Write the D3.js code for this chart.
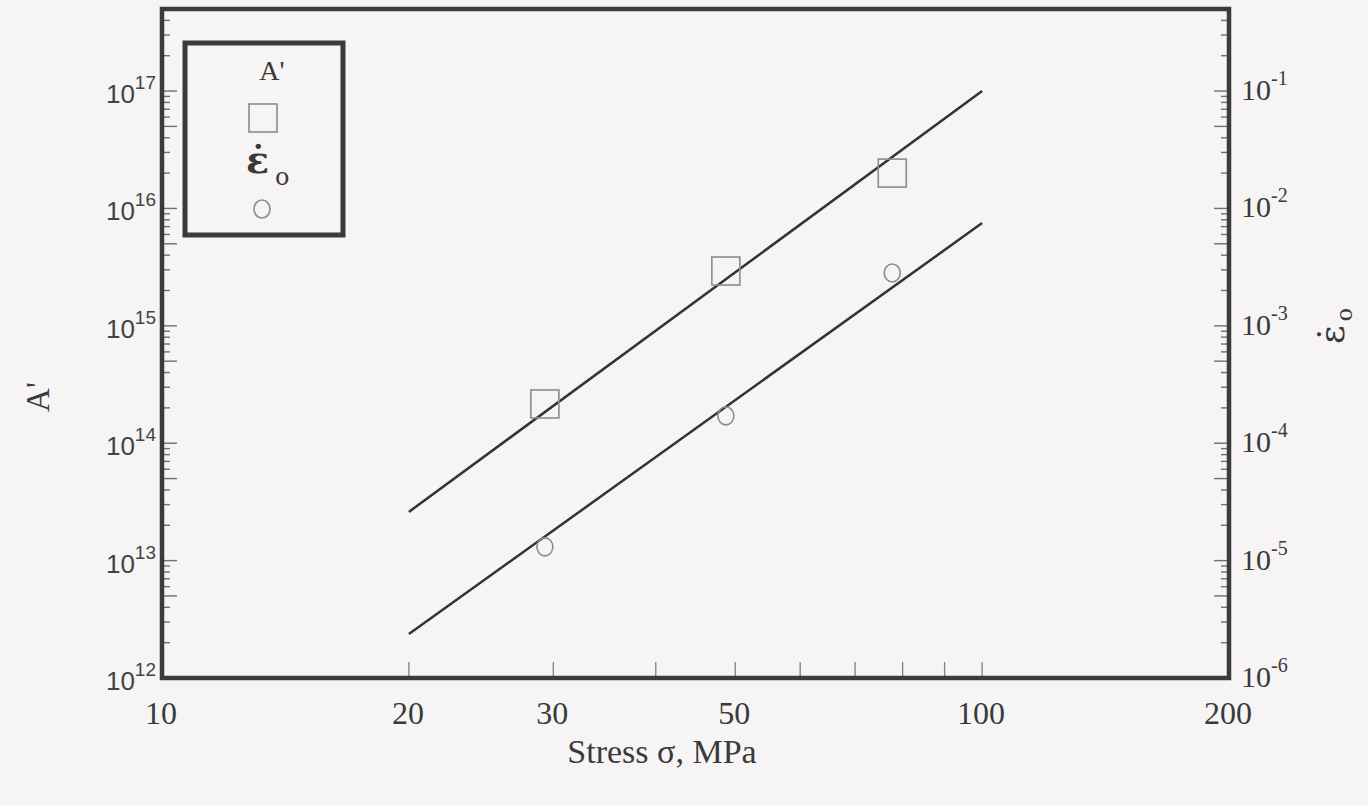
<!DOCTYPE html>
<html lang="en">
<head>
  <meta charset="UTF-8">
  <title>A' and strain rate vs stress</title>
  <script src="https://d3js.org/d3.v7.min.js"></script>
  <style>
    html, body {
      margin: 0;
      padding: 0;
      background: #f6f4f4;
    }
    svg {
      display: block;
    }
    .serif {
      font-family: "Liberation Serif", "Times New Roman", serif;
      fill: #3a3a3a;
    }
    .sans {
      font-family: "Liberation Sans", Arial, sans-serif;
      fill: #444;
    }
  </style>
</head>
<body>
  <svg width="1368" height="805"></svg>

  <script>
    // tick values and labels
    const xTickVals = [20, 30, 40, 50, 60, 70, 80, 90, 100];
    const xLabelVals = [10, 20, 30, 50, 100, 200];
    const leftExps = [12, 13, 14, 15, 16, 17];
    const rightExps = [-6, -5, -4, -3, -2, -1];

    // measured points
    const stress = [29.3, 48.7, 77.7];
    const aPrime = [2.16e14, 2.93e15, 2.0e16];
    const epsRate = [1.31e-5, 1.71e-4, 2.82e-3];

    // fitted lines (end points)
    const fitStress = [20, 100];
    const fitA = [2.6e13, 1.0e17];
    const fitEps = [2.37e-6, 7.5e-3];

    const svg = d3.select('svg');
    const frame = { left: 162, right: 1229, top: 9, bottom: 678 };

    const x = d3.scaleLog().domain([10, 200]).range([frame.left, frame.right]);
    const yL = d3.scaleLog().domain([1e12, 5e17]).range([frame.bottom, frame.top]);
    const yR = d3.scaleLog().domain([1e-6, 5e-1]).range([frame.bottom, frame.top]);

    const mantissa = v => Math.round(v / Math.pow(10, Math.floor(Math.log10(v) + 1e-9)));
    const tickLen = v => (mantissa(v) === 1 || mantissa(v) === 5) ? 15 : 8;

    // left axis ticks (inside)
    svg.append('g')
      .selectAll('line')
      .data(yL.ticks())
      .enter()
      .append('line')
      .attr('x1', frame.left)
      .attr('x2', d => frame.left + tickLen(d))
      .attr('y1', d => yL(d))
      .attr('y2', d => yL(d))
      .attr('stroke', '#707070')
      .attr('stroke-width', 1.4);

    // right axis ticks (inside)
    svg.append('g')
      .selectAll('line')
      .data(yR.ticks())
      .enter()
      .append('line')
      .attr('x1', frame.right)
      .attr('x2', d => frame.right - tickLen(d))
      .attr('y1', d => yR(d))
      .attr('y2', d => yR(d))
      .attr('stroke', '#707070')
      .attr('stroke-width', 1.4);

    // bottom ticks
    svg.append('g')
      .selectAll('line')
      .data(xTickVals)
      .enter()
      .append('line')
      .attr('x1', d => x(d))
      .attr('x2', d => x(d))
      .attr('y1', frame.bottom)
      .attr('y2', frame.bottom - 16)
      .attr('stroke', '#808080')
      .attr('stroke-width', 1.3);

    // frame
    svg.append('rect')
      .attr('x', frame.left)
      .attr('y', frame.top)
      .attr('width', frame.right - frame.left)
      .attr('height', frame.bottom - frame.top)
      .attr('fill', 'none')
      .attr('stroke', '#3b3b3b')
      .attr('stroke-width', 4.5);

    // left labels 10^n
    const leftLab = svg.append('g')
      .selectAll('text')
      .data(leftExps)
      .enter()
      .append('text')
      .attr('class', 'sans')
      .attr('text-anchor', 'end')
      .attr('x', frame.left - 6)
      .attr('y', d => yL(Math.pow(10, d)) + 12)
      .style('font-size', '26px');
    leftLab.append('tspan').text('10');
    leftLab.append('tspan')
      .attr('dy', -14)
      .style('font-size', '19px')
      .text(d => d);

    // right labels 10^-n
    const rightLab = svg.append('g')
      .selectAll('text')
      .data(rightExps)
      .enter()
      .append('text')
      .attr('class', 'serif')
      .attr('x', frame.right + 12)
      .attr('y', d => yR(Math.pow(10, d)) + 9)
      .style('font-size', '30px');
    rightLab.append('tspan').text('10');
    rightLab.append('tspan')
      .attr('dy', -15)
      .style('font-size', '20px')
      .text(d => '-' + Math.abs(d));

    // bottom labels
    svg.append('g')
      .selectAll('text')
      .data(xLabelVals)
      .enter()
      .append('text')
      .attr('class', 'serif')
      .attr('text-anchor', 'middle')
      .attr('x', d => x(d) - 1)
      .attr('y', 724)
      .style('font-size', '32px')
      .text(d => d);

    // axis titles
    svg.append('text')
      .attr('class', 'serif')
      .attr('text-anchor', 'middle')
      .attr('x', 662)
      .attr('y', 763)
      .style('font-size', '34px')
      .text('Stress σ, MPa');

    svg.append('text')
      .attr('class', 'serif')
      .attr('text-anchor', 'middle')
      .attr('transform', 'translate(49, 397) rotate(-90)')
      .style('font-size', '33px')
      .text("A'");

    const rt = svg.append('text')
      .attr('class', 'serif')
      .attr('text-anchor', 'middle')
      .attr('transform', 'translate(1344, 326) rotate(-90)')
      .style('font-family', '"DejaVu Serif", serif')
      .style('font-size', '36px');
    rt.append('tspan').text('ε\u0307');
    rt.append('tspan').attr('dx', 4).attr('dy', 8).style('font-size', '22px').text('o');

    // fitted lines
    const lineA = d3.line().x(d => x(d[0])).y(d => yL(d[1]));
    const lineE = d3.line().x(d => x(d[0])).y(d => yR(d[1]));

    svg.append('path')
      .datum(d3.zip(fitStress, fitA))
      .attr('d', lineA)
      .attr('fill', 'none')
      .attr('stroke', '#333')
      .attr('stroke-width', 2.5);

    svg.append('path')
      .datum(d3.zip(fitStress, fitEps))
      .attr('d', lineE)
      .attr('fill', 'none')
      .attr('stroke', '#333')
      .attr('stroke-width', 2.5);

    // markers
    const sq = 28;
    svg.append('g')
      .selectAll('rect')
      .data(d3.zip(stress, aPrime))
      .enter()
      .append('rect')
      .attr('x', d => x(d[0]) - sq / 2)
      .attr('y', d => yL(d[1]) - sq / 2)
      .attr('width', sq)
      .attr('height', sq)
      .attr('fill', 'none')
      .attr('stroke', '#8c8c8c')
      .attr('stroke-width', 1.6);

    svg.append('g')
      .selectAll('ellipse')
      .data(d3.zip(stress, epsRate))
      .enter()
      .append('ellipse')
      .attr('cx', d => x(d[0]))
      .attr('cy', d => yR(d[1]))
      .attr('rx', 8)
      .attr('ry', 9)
      .attr('fill', 'none')
      .attr('stroke', '#8c8c8c')
      .attr('stroke-width', 1.6);

    // legend
    const lg = svg.append('g');
    lg.append('rect')
      .attr('x', 185)
      .attr('y', 43)
      .attr('width', 158)
      .attr('height', 192)
      .attr('fill', 'none')
      .attr('stroke', '#3a3a3a')
      .attr('stroke-width', 5);
    lg.append('text')
      .attr('class', 'serif')
      .attr('text-anchor', 'middle')
      .attr('x', 272)
      .attr('y', 80)
      .style('font-size', '28px')
      .text("A'");
    lg.append('rect')
      .attr('x', 263 - sq / 2)
      .attr('y', 118 - sq / 2)
      .attr('width', sq)
      .attr('height', sq)
      .attr('fill', 'none')
      .attr('stroke', '#8c8c8c')
      .attr('stroke-width', 1.6);
    const le = lg.append('text')
      .attr('class', 'serif')
      .attr('x', 246)
      .attr('y', 173)
      .style('font-family', '"DejaVu Serif", serif')
      .style('font-weight', 'bold')
      .style('font-size', '38px');
    le.append('tspan').text('ε\u0307');
    le.append('tspan').attr('dx', 6).attr('dy', 12).style('font-size', '24px').style('font-weight', 'normal').text('o');
    lg.append('ellipse')
      .attr('cx', 262)
      .attr('cy', 209)
      .attr('rx', 8)
      .attr('ry', 9)
      .attr('fill', 'none')
      .attr('stroke', '#8c8c8c')
      .attr('stroke-width', 1.6);
  </script>
</body>
</html>
